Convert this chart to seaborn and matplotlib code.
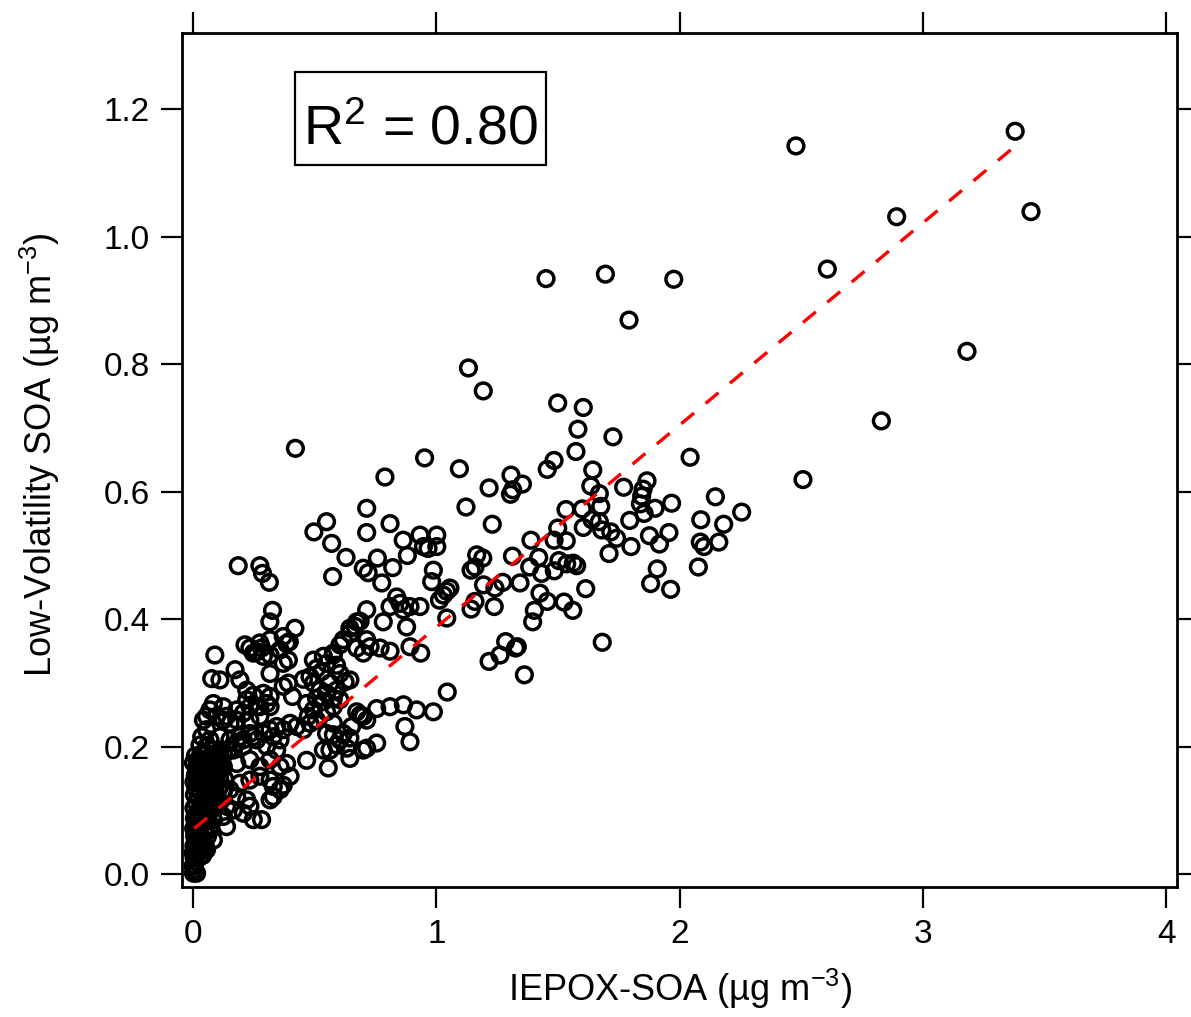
import matplotlib
matplotlib.use('Agg')
import matplotlib.pyplot as plt
import seaborn as sns
import pandas as pd
from matplotlib.patches import Rectangle
from matplotlib.ticker import FormatStrFormatter, MultipleLocator

# values, ug m-3
# sparse high end
high_x = [2.478, 3.379, 2.892, 3.444, 2.607, 3.181, 2.829, 2.507, 2.255, 1.451, 1.695, 1.976, 1.792]
high_y = [1.142, 1.165, 1.031, 1.039, 0.949, 0.820, 0.711, 0.619, 0.568, 0.934, 0.941, 0.933, 0.869]

# 1 - 2.2 cloud
mid_x = [1.132, 1.193, 1.499, 1.604, 1.582, 1.726, 1.574, 2.043, 1.095, 1.484, 1.456, 1.643, 1.307,
         1.354, 1.314, 1.305, 1.217, 1.635, 1.670, 1.770, 1.866, 1.850, 1.844, 1.839, 1.899, 1.854,
         1.967, 2.147, 2.087, 2.181, 1.122, 1.230, 1.533, 1.600, 1.676, 1.640, 1.604, 1.670, 1.680,
         1.717, 1.741, 1.795, 1.800, 1.710, 1.499, 1.484, 1.534, 1.389, 1.876, 1.917, 1.956, 2.085,
         2.100, 2.161, 2.077, 1.908, 1.881, 1.963, 1.313, 1.421, 1.384, 1.433, 1.485, 1.504, 1.536,
         1.563, 1.577, 1.166, 1.191, 1.143, 1.159, 1.194, 1.241, 1.273, 1.344, 1.426, 1.456, 1.525,
         1.561, 1.614, 1.403, 1.396, 1.238, 1.143, 1.159, 1.043, 1.682, 1.285, 1.262, 1.326, 1.333,
         1.217, 1.362, 1.045]
mid_y = [0.794, 0.758, 0.739, 0.732, 0.698, 0.686, 0.663, 0.654, 0.636, 0.649, 0.635, 0.634, 0.626,
         0.612, 0.603, 0.596, 0.606, 0.609, 0.597, 0.607, 0.617, 0.604, 0.593, 0.581, 0.574, 0.566,
         0.582, 0.592, 0.556, 0.549, 0.576, 0.549, 0.572, 0.573, 0.577, 0.556, 0.544, 0.553, 0.540,
         0.537, 0.527, 0.555, 0.514, 0.503, 0.543, 0.524, 0.523, 0.524, 0.531, 0.518, 0.536, 0.521,
         0.514, 0.521, 0.482, 0.479, 0.456, 0.447, 0.499, 0.497, 0.482, 0.472, 0.476, 0.492, 0.487,
         0.488, 0.484, 0.501, 0.496, 0.477, 0.482, 0.454, 0.449, 0.458, 0.457, 0.441, 0.428, 0.427,
         0.414, 0.448, 0.414, 0.396, 0.420, 0.416, 0.428, 0.402, 0.364, 0.365, 0.344, 0.355, 0.357,
         0.334, 0.313, 0.286]

# 0.2 - 1.05 upper group
upper_x = [0.421, 0.952, 0.789, 0.714, 0.549, 0.497, 0.570, 0.714, 0.810, 0.864, 0.933, 1.002, 0.947,
           1.002, 0.881, 0.966, 0.629, 0.758, 0.700, 0.720, 0.821, 0.776, 0.574, 0.186, 0.275, 0.286,
           0.314, 0.988, 0.981, 1.056, 1.029, 1.013, 1.043, 0.327, 0.316, 0.419, 0.371, 0.396, 0.714,
           0.837, 0.851, 0.810, 0.864, 0.878, 0.782, 0.933, 0.892, 0.673, 0.645, 0.618, 0.714, 0.673,
           0.769, 0.810, 0.892, 0.936, 0.700, 0.728, 0.604, 0.645, 0.666, 0.687, 0.577, 0.536, 0.495,
           0.317, 0.275]
upper_y = [0.668, 0.653, 0.623, 0.574, 0.553, 0.537, 0.519, 0.536, 0.550, 0.524, 0.532, 0.532, 0.514,
           0.514, 0.500, 0.511, 0.497, 0.496, 0.480, 0.473, 0.481, 0.457, 0.467, 0.484, 0.484, 0.472,
           0.458, 0.477, 0.459, 0.449, 0.438, 0.430, 0.444, 0.414, 0.396, 0.386, 0.373, 0.365, 0.415,
           0.435, 0.425, 0.420, 0.415, 0.388, 0.396, 0.420, 0.420, 0.396, 0.386, 0.368, 0.368, 0.355,
           0.355, 0.350, 0.357, 0.347, 0.347, 0.357, 0.360, 0.378, 0.389, 0.397, 0.347, 0.342, 0.336,
           0.368, 0.363]

# low branch below the fit line
branch_x = [0.755, 0.810, 0.865, 0.919, 0.988, 0.673, 0.687, 0.700, 0.714, 0.871, 0.892, 0.755, 0.714,
            0.700, 0.652, 0.618, 0.645, 0.604, 0.577, 0.549, 0.536, 0.563, 0.632, 0.645, 0.467, 0.556,
            0.590, 0.577]
branch_y = [0.260, 0.263, 0.266, 0.258, 0.255, 0.255, 0.250, 0.248, 0.242, 0.232, 0.208, 0.206, 0.198,
            0.195, 0.232, 0.221, 0.214, 0.211, 0.219, 0.221, 0.195, 0.195, 0.198, 0.182, 0.179, 0.167,
            0.203, 0.237]

# 0.3 - 0.65 cluster around 0.25 - 0.35
cluster_x = [0.577, 0.549, 0.590, 0.508, 0.529, 0.604, 0.481, 0.454, 0.625, 0.645, 0.495, 0.522, 0.549,
             0.577, 0.536, 0.508, 0.467, 0.495, 0.474, 0.549, 0.577, 0.604, 0.563, 0.590, 0.409, 0.371,
             0.392, 0.317, 0.371, 0.392, 0.214, 0.248, 0.282, 0.317, 0.358, 0.385, 0.289, 0.262, 0.234,
             0.090, 0.173, 0.077, 0.111]
cluster_y = [0.344, 0.331, 0.328, 0.323, 0.318, 0.315, 0.310, 0.306, 0.302, 0.305, 0.300, 0.289, 0.284,
             0.276, 0.271, 0.276, 0.268, 0.258, 0.248, 0.255, 0.263, 0.274, 0.300, 0.289, 0.279, 0.295,
             0.300, 0.315, 0.331, 0.336, 0.360, 0.347, 0.355, 0.344, 0.352, 0.362, 0.342, 0.349, 0.355,
             0.344, 0.321, 0.307, 0.305]

# dense part below x = 0.5
low_x = [0.193, 0.221, 0.248, 0.289, 0.317, 0.303, 0.275, 0.234, 0.207, 0.180, 0.152, 0.125, 0.097,
         0.070, 0.043, 0.056, 0.036, 0.029, 0.056, 0.084, 0.111, 0.145, 0.180, 0.207, 0.248, 0.289,
         0.317, 0.344, 0.371, 0.399, 0.426, 0.454, 0.481, 0.508, 0.330, 0.358, 0.084, 0.125, 0.180,
         0.221, 0.262, 0.317, 0.275, 0.234, 0.138, 0.056, 0.070, 0.111, 0.152, 0.193, 0.234, 0.262,
         0.303, 0.207, 0.166, 0.125, 0.084, 0.043, 0.015, 0.070, 0.125, 0.180, 0.234, 0.275, 0.317,
         0.344, 0.358, 0.385, 0.399, 0.371, 0.330, 0.317, 0.248, 0.282,
         0.029, 0.070, 0.111, 0.152, 0.193, 0.234, 0.275, 0.317, 0.330, 0.358, 0.180, 0.221, 0.138,
         0.097, 0.056, 0.043, 0.084, 0.125, 0.166, 0.207, 0.234, 0.138, 0.070, 0.029, 0.015, 0.043,
         0.084, 0.001, 0.029, 0.056, 0.001, 0.015]
low_y = [0.305, 0.289, 0.281, 0.284, 0.279, 0.268, 0.263, 0.263, 0.253, 0.242, 0.237, 0.242, 0.248,
         0.258, 0.242, 0.227, 0.216, 0.203, 0.201, 0.195, 0.195, 0.195, 0.206, 0.211, 0.216, 0.221,
         0.227, 0.232, 0.227, 0.237, 0.232, 0.227, 0.237, 0.242, 0.216, 0.211, 0.268, 0.263, 0.258,
         0.274, 0.263, 0.263, 0.248, 0.242, 0.248, 0.248, 0.211, 0.216, 0.211, 0.216, 0.221, 0.211,
         0.201, 0.201, 0.195, 0.190, 0.185, 0.180, 0.169, 0.169, 0.169, 0.174, 0.180, 0.169, 0.180,
         0.195, 0.169, 0.174, 0.154, 0.140, 0.122, 0.117, 0.086, 0.086,
         0.154, 0.148, 0.138, 0.133, 0.143, 0.148, 0.154, 0.148, 0.138, 0.133, 0.122, 0.117, 0.107,
         0.112, 0.117, 0.096, 0.086, 0.091, 0.101, 0.096, 0.107, 0.075, 0.070, 0.075, 0.054, 0.049,
         0.054, 0.034, 0.028, 0.039, 0.013, 0.002]

# solid blob next to the origin
blob_x = [0.002, 0.006, 0.003, 0.010, 0.005, 0.014, 0.008, 0.018, 0.004, 0.012, 0.022, 0.007, 0.016,
          0.026, 0.003, 0.012, 0.030, 0.020, 0.006, 0.036, 0.015, 0.026, 0.044, 0.004, 0.032, 0.052,
          0.014, 0.040, 0.060, 0.022, 0.006, 0.048, 0.070, 0.030, 0.012, 0.056, 0.080, 0.038, 0.004,
          0.020, 0.064, 0.090, 0.046, 0.010, 0.030, 0.074, 0.100, 0.054, 0.016, 0.036, 0.085, 0.110,
          0.062, 0.002, 0.024, 0.044, 0.096, 0.070, 0.010, 0.032, 0.055,
          0.040, 0.050, 0.060, 0.070, 0.080, 0.090, 0.100, 0.105, 0.110, 0.060, 0.070, 0.080, 0.090,
          0.095, 0.050, 0.035, 0.025, 0.045, 0.055, 0.065, 0.075, 0.085, 0.120, 0.115, 0.100, 0.130,
          0.125]
blob_y = [0.002, 0.008, 0.015, 0.020, 0.026, 0.031, 0.037, 0.042, 0.045, 0.050, 0.055, 0.060, 0.064,
          0.068, 0.072, 0.077, 0.080, 0.084, 0.088, 0.090, 0.094, 0.099, 0.101, 0.104, 0.107, 0.110,
          0.112, 0.116, 0.119, 0.121, 0.125, 0.126, 0.128, 0.131, 0.135, 0.136, 0.139, 0.141, 0.145,
          0.147, 0.148, 0.150, 0.152, 0.156, 0.158, 0.160, 0.160, 0.163, 0.166, 0.168, 0.170, 0.168,
          0.172, 0.175, 0.177, 0.180, 0.178, 0.182, 0.186, 0.188, 0.190,
          0.030, 0.045, 0.060, 0.075, 0.090, 0.105, 0.120, 0.135, 0.150, 0.085, 0.100, 0.115, 0.130,
          0.145, 0.070, 0.055, 0.040, 0.085, 0.100, 0.115, 0.132, 0.155, 0.165, 0.180, 0.190, 0.150,
          0.130]

# linear fit shown as dashed red line
fit_slope = 0.317
fit_intercept = 0.0705
fit_x = [0.005, 3.40]
r2_label = 'R$^2$ = 0.80'

df = pd.DataFrame({
    'iepox': high_x + mid_x + upper_x + branch_x + cluster_x + low_x + blob_x,
    'lvsoa': high_y + mid_y + upper_y + branch_y + cluster_y + low_y + blob_y,
})
fit = pd.DataFrame({'iepox': fit_x})
fit['lvsoa'] = fit_intercept + fit_slope * fit['iepox']

sns.set_style('ticks')
plt.rcParams['font.family'] = ['Liberation Sans', 'DejaVu Sans']
plt.rcParams['text.color'] = 'black'
plt.rcParams['axes.labelcolor'] = 'black'
plt.rcParams['mathtext.fontset'] = 'custom'
plt.rcParams['mathtext.rm'] = 'Liberation Sans'
plt.rcParams['mathtext.it'] = 'Liberation Sans:italic'
plt.rcParams['mathtext.default'] = 'regular'

fig = plt.figure(figsize=(11.91, 10.17), dpi=100)
ax = fig.add_axes([182 / 1191, 1 - 887 / 1017, 995 / 1191, 854 / 1017])

sns.scatterplot(data=df, x='iepox', y='lvsoa', ax=ax, marker='o', s=128,
                facecolors='none', edgecolors='black', linewidths=2.5, zorder=3)
sns.lineplot(data=fit, x='iepox', y='lvsoa', ax=ax, color='red', linewidth=2.4,
             linestyle=(0, (5, 4.5)), errorbar=None, zorder=4)

ax.set_xlim(-0.045, 4.044)
ax.set_ylim(-0.0196, 1.319)
ax.xaxis.set_major_locator(MultipleLocator(1))
ax.yaxis.set_major_locator(MultipleLocator(0.2))
ax.xaxis.set_major_formatter(FormatStrFormatter('%d'))
ax.yaxis.set_major_formatter(FormatStrFormatter('%.1f'))
ax.tick_params(direction='out', length=15, width=1.6, labelsize=24, pad=8,
               top=True, right=True, colors='black')
for sp in ax.spines.values():
    sp.set_linewidth(2.0)
    sp.set_color('black')

ax.set_xlabel('IEPOX-SOA (µg m$^{-3}$)', fontsize=26, labelpad=12, color='black')
ax.set_ylabel('Low-Volatility SOA (µg m$^{-3}$)', fontsize=26, color='black')
ax.yaxis.set_label_coords(-0.121, 0.506)

# R^2 annotation with its frame
ax.add_patch(Rectangle((0.1136, 0.8454), 0.2522, 0.1089, transform=ax.transAxes,
                       fill=True, fc='white', ec='black', lw=1.6, zorder=5))
ax.text(0.2392, 0.870, r2_label, transform=ax.transAxes, fontsize=40,
        ha='center', va='baseline', color='black', zorder=6)

fig.savefig('out.png', dpi=100)
